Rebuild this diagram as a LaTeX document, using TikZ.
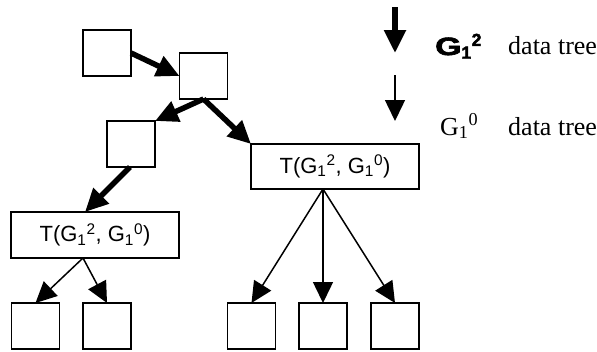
\documentclass[tikz,border=0pt]{standalone}
\usepackage{fontspec}
\setmainfont{Liberation Serif}
\newfontfamily\arialf{Liberation Sans}
\newfontfamily\arialblack[FakeBold=2.5]{Liberation Sans Bold}
\usetikzlibrary{arrows.meta}
\begin{document}
\begin{tikzpicture}[x=1pt,y=-1pt,
  sq/.style={draw,line width=1.5pt,minimum width=48pt,minimum height=46pt,inner sep=0pt,outer sep=0pt},
  tbox/.style={draw,line width=1.5pt,minimum width=168pt,minimum height=45pt,inner sep=0pt,outer sep=0pt,font=\arialf\fontsize{22}{26}\selectfont},
  thickarr/.style={line width=5.5pt,-{Triangle[length=23pt,width=21pt]}},
  thinarr/.style={line width=1.5pt,-{Triangle[length=21pt,width=20pt]}},
  lbl/.style={anchor=base west,inner sep=0pt,font=\fontsize{26}{30}\selectfont}]
\useasboundingbox (0,0) rectangle (597,351);
% tree nodes
\node[sq] (b1) at (107,53) {};
\node[sq] (b2) at (203.5,76) {};
\node[sq] (b3) at (131,144) {};
\node[tbox] (rT) at (335,166.5) {T(G\textsubscript{1}\textsuperscript{2}, G\textsubscript{1}\textsuperscript{0})};
\node[tbox,minimum height=46pt] (lT) at (95,235) {T(G\textsubscript{1}\textsuperscript{2}, G\textsubscript{1}\textsuperscript{0})};
\node[sq] (bA) at (35.5,326) {};
\node[sq] (bB) at (107,326) {};
\node[sq] (bC) at (251.5,326) {};
\node[sq] (bD) at (323,326) {};
\node[sq] (bE) at (395,326) {};
% thick connectors
\draw[thickarr] (b1.east) -- (b2.west);
\draw[thickarr] (b2.south) -- (b3.north east);
\draw[thickarr] (b2.south) -- (rT.north west);
\draw[thickarr] ([xshift=-1pt]b3.south) -- ([xshift=-10pt]lT.north);
% thin connectors
\draw[thinarr] ([xshift=-12pt]lT.south) -- (bA.north);
\draw[thinarr] ([xshift=-12pt]lT.south) -- (bB.north);
\draw[thinarr] ([xshift=-12pt]rT.south) -- (bC.north);
\draw[thinarr] ([xshift=-12pt]rT.south) -- (bD.north);
\draw[thinarr] ([xshift=-12pt]rT.south) -- (bE.north);
% legend
\coordinate (l1a) at (395,7);
\coordinate (l1b) at (395,53);
\coordinate (l2a) at (395,75);
\coordinate (l2b) at (395,121);
\draw[thickarr] (l1a) -- (l1b);
\draw[thinarr] (l2a) -- (l2b);
\node[lbl,font=\arialblack\fontsize{25}{30}\selectfont] (g2) at (435,55) {\scalebox{1.35}[1]{G}\textsubscript{1}\textsuperscript{2}};
\node[lbl] (t1) at (508,54) {data tree};
\node[lbl] (g0) at (440,135) {G\textsubscript{1}\textsuperscript{0}};
\node[lbl] (t2) at (508,135) {data tree};
\end{tikzpicture}
\end{document}
